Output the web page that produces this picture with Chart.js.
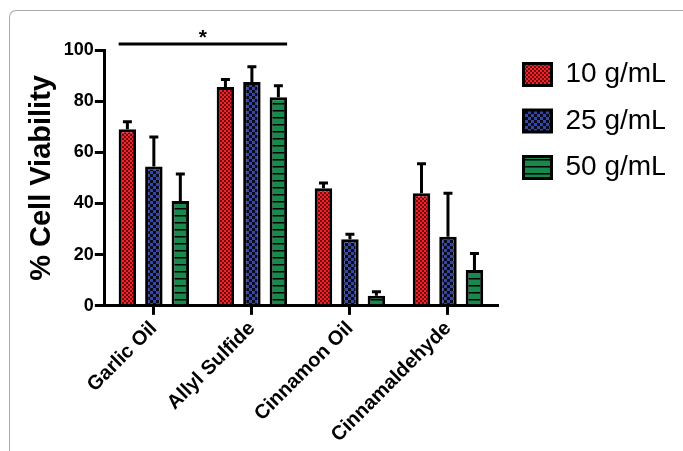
<!DOCTYPE html>
<html>
<head>
<meta charset="utf-8">
<script src="https://cdn.jsdelivr.net/npm/chart.js@4.4.1/dist/chart.umd.min.js"></script>
<style>
  html, body { margin: 0; padding: 0; background: #fff; }
  #wrap { position: relative; width: 683px; height: 451px; overflow: hidden; }
  #frame {
    position: absolute; left: 9px; top: 10px; width: 700px; height: 460px;
    border-top: 1.5px solid #aaa; border-left: 1.5px solid #aaa;
    border-top-left-radius: 7px;
  }
  #chart { position: absolute; left: 0; top: 0; }
</style>
</head>
<body>
<div id="wrap">
  <div id="frame"></div>
  <canvas id="chart" width="683" height="451"></canvas>
</div>
<script>
// data
const categories = ['Garlic Oil', 'Allyl Sulfide', 'Cinnamon Oil', 'Cinnamaldehyde'];
const seriesNames = ['10 g/mL', '25 g/mL', '50 g/mL'];
const mean10 = [69, 85.5, 46, 44];
const mean25 = [54.5, 87.5, 26, 27];
const mean50 = [41, 81.5, 4, 14];
const err10 = [3, 3, 2, 11.5];
const err25 = [11.5, 6, 2, 17];
const err50 = [10.5, 4.5, 1.5, 6.5];
const yTicks = [0, 20, 40, 60, 80, 100];
const sigLevel = 102.3;

const FONT = '"Liberation Sans", Arial, sans-serif';

function makePattern(kind) {
  const c = document.createElement('canvas');
  const ctx = c.getContext('2d');
  if (kind === 'red') {
    c.width = 4; c.height = 4;
    ctx.fillStyle = '#f2232a'; ctx.fillRect(0, 0, 4, 4);
    ctx.fillStyle = '#6e0d0d';
    ctx.fillRect(0, 0, 2, 2); ctx.fillRect(2, 2, 2, 2);
  } else if (kind === 'blue') {
    c.width = 6; c.height = 6;
    ctx.fillStyle = '#3446a6'; ctx.fillRect(0, 0, 6, 6);
    ctx.fillStyle = '#0a0a1a';
    ctx.fillRect(0, 0, 3, 3); ctx.fillRect(3, 3, 3, 3);
  } else {
    c.width = 6; c.height = 7;
    ctx.fillStyle = '#17894a'; ctx.fillRect(0, 0, 6, 7);
    ctx.fillStyle = '#000';
    ctx.fillRect(0, 5, 6, 1.5);
  }
  return ctx.createPattern(c, 'repeat');
}

const errorBars = {
  id: 'errorBars',
  afterDatasetsDraw(chart) {
    const ctx = chart.ctx;
    const y = chart.scales.y;
    ctx.save();
    ctx.strokeStyle = '#000';
    ctx.lineWidth = 3;
    chart.data.datasets.forEach((ds, i) => {
      chart.getDatasetMeta(i).data.forEach((bar, j) => {
        const top = y.getPixelForValue(ds.data[j] + ds.errors[j]);
        ctx.beginPath();
        ctx.moveTo(bar.x, bar.y);
        ctx.lineTo(bar.x, top);
        ctx.moveTo(bar.x - 4.5, top);
        ctx.lineTo(bar.x + 4.5, top);
        ctx.stroke();
      });
    });
    ctx.restore();
  }
};

const significance = {
  id: 'significance',
  afterDraw(chart) {
    const ctx = chart.ctx;
    const first = chart.getDatasetMeta(0).data[0];
    const last = chart.getDatasetMeta(2).data[1];
    const x1 = first.x - first.width / 2;
    const x2 = last.x + last.width / 2;
    const yy = chart.scales.y.getPixelForValue(sigLevel);
    ctx.save();
    ctx.strokeStyle = '#000';
    ctx.lineWidth = 3;
    ctx.beginPath();
    ctx.moveTo(x1, yy);
    ctx.lineTo(x2, yy);
    ctx.stroke();
    ctx.fillStyle = '#000';
    ctx.font = 'bold 21px ' + FONT;
    ctx.textAlign = 'center';
    ctx.textBaseline = 'alphabetic';
    ctx.fillText('*', (x1 + x2) / 2, yy);
    ctx.restore();
  }
};

const patterns = [makePattern('red'), makePattern('blue'), makePattern('green')];
const means = [mean10, mean25, mean50];
const errs = [err10, err25, err50];

new Chart(document.getElementById('chart'), {
  type: 'bar',
  data: {
    labels: categories,
    datasets: seriesNames.map((name, i) => ({
      label: name,
      data: means[i],
      errors: errs[i],
      backgroundColor: patterns[i],
      borderColor: '#000',
      borderWidth: 3,
      categoryPercentage: 0.81,
      barPercentage: 0.66
    }))
  },
  options: {
    responsive: false,
    animation: false,
    layout: { padding: { top: 42, left: 25, right: 18, bottom: 2 } },
    plugins: {
      tooltip: { enabled: false },
      // empty spacer that only pushes the plot area down, not the legend
      title: { display: true, text: '', fullSize: false, padding: 0, font: { size: 8, lineHeight: 1 } },
      legend: {
        position: 'right',
        align: 'start',
        labels: {
          color: '#000',
          boxWidth: 28,
          boxHeight: 22,
          padding: 18.5,
          font: { size: 28, family: FONT }
        }
      }
    },
    scales: {
      x: {
        grid: { display: true, drawOnChartArea: false, offset: false, drawTicks: true, tickLength: 9, color: '#000', lineWidth: 3 },
        border: { color: '#000', width: 3 },
        ticks: {
          color: '#000',
          maxRotation: 45, minRotation: 45,
          padding: 2,
          font: { size: 20, weight: 'bold', family: FONT }
        }
      },
      y: {
        min: 0, max: 100,
        afterBuildTicks(axis) { axis.ticks = yTicks.map(v => ({ value: v })); },
        grid: { display: true, drawOnChartArea: false, drawTicks: true, tickLength: 10, color: '#000', lineWidth: 3 },
        border: { color: '#000', width: 3 },
        ticks: {
          color: '#000',
          padding: 1,
          font: { size: 18, weight: 'bold', family: FONT }
        },
        title: {
          display: true,
          text: '% Cell Viability',
          color: '#000',
          padding: { top: 0, bottom: 3 },
          font: { size: 29, weight: 'bold', family: FONT }
        }
      },
      // blank gap between the plot and the legend
      gap: {
        type: 'linear',
        position: 'right',
        display: false,
        afterFit(s) { s.width = 8; }
      }
    }
  },
  plugins: [errorBars, significance]
});
</script>
</body>
</html>
